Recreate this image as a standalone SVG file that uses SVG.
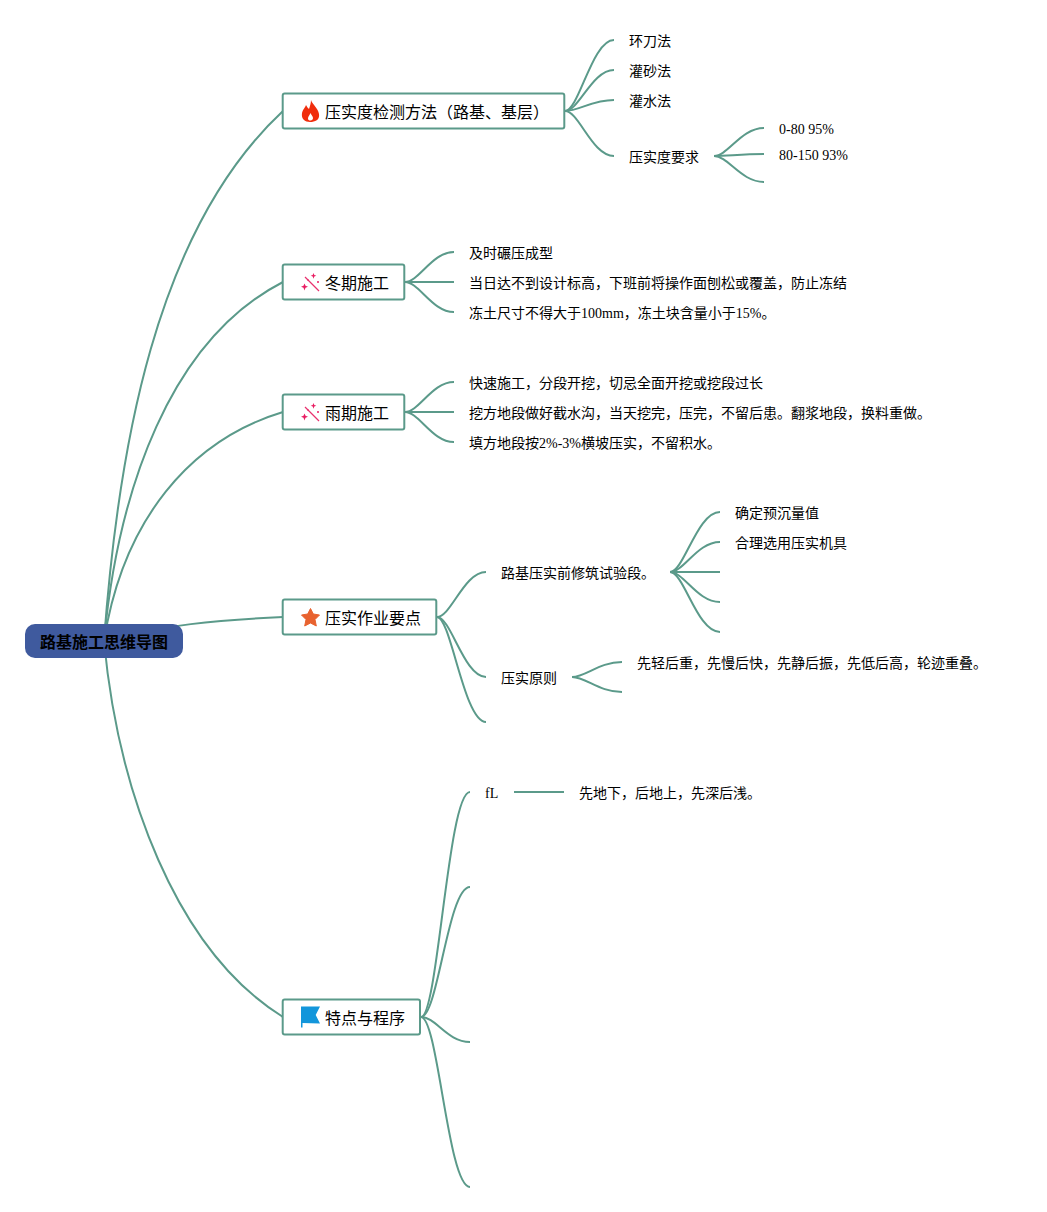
<svg xmlns="http://www.w3.org/2000/svg" width="1047" height="1212" viewBox="0 0 1047 1212">
<style>
text{font-family:"Liberation Serif","Noto Sans CJK JP",serif;fill:#000}
.l{font-size:14px}
.n{font-size:16px}
.box{fill:#fff;stroke:#5b9a8a;stroke-width:2}
#connectors path{fill:none;stroke:#5b9a8a;stroke-width:2}
.w{fill:none;stroke:#e8326e;stroke-width:1.3}
.s{fill:#e91e63}
</style>
<rect width="1047" height="1212" fill="#fff"/>
<g id="connectors">
<path d="M104 641C118 450 155 230 283 111"/>
<path d="M104 641C118 490 170 340 283 282"/>
<path d="M104 641C123 520 190 440 283 412"/>
<path d="M104 641C160 625 220 620 283 617"/>
<path d="M104 641C118 790 175 950 283 1017"/>
<path d="M565 111C579 111 592 40 614 40"/>
<path d="M565 111C579 111 592 70 614 70"/>
<path d="M565 111C579 111 592 100 614 100"/>
<path d="M565 111C579 111 592 156 614 156"/>
<path d="M714 156C728 156 741 128 764 128"/>
<path d="M714 156C728 156 741 154 764 154"/>
<path d="M714 156C728 156 741 182 764 182"/>
<path d="M405 282C419 282 432 252 454 252"/>
<path d="M405 282H454"/>
<path d="M405 282C419 282 432 312 454 312"/>
<path d="M405 412C419 412 432 382 454 382"/>
<path d="M405 412H454"/>
<path d="M405 412C419 412 432 442 454 442"/>
<path d="M437 617C451 617 464 572 486 572"/>
<path d="M437 617C451 617 464 677 486 677"/>
<path d="M437 617C451 617 464 722 486 722"/>
<path d="M670 572C684 572 697 512 720 512"/>
<path d="M670 572C684 572 697 542 720 542"/>
<path d="M670 572H720"/>
<path d="M670 572C684 572 697 602 720 602"/>
<path d="M670 572C684 572 697 632 720 632"/>
<path d="M572 677C586 677 599 662 622 662"/>
<path d="M572 677C586 677 599 692 622 692"/>
<path d="M514 792H564"/>
<path d="M421 1017C438 1017 448 792 470 792"/>
<path d="M421 1017C438 1017 448 887 470 887"/>
<path d="M421 1017C436 1017 447 1042 470 1042"/>
<path d="M421 1017C438 1017 448 1187 470 1187"/>
</g>
<g id="root"><rect x="25" y="624" width="158" height="34" rx="10" fill="#3f5a9e"/><text x="40" y="648" font-size="16" font-weight="bold">路基施工思维导图</text></g>
<g id="n1"><rect class="box" x="282.700" y="93.500" width="281.600" height="35" rx="2"/>
<path d="M311 100C312 104 318 108 319 114C320 120 315 122 310 122C305 122 301 119 302 113C303 109 305 108 306 105C307 107 308 108 309 109C310 106 311 103 311 100Z M310.500 113C309 116 308 117 308 118.500C308 120 309 120.500 310.500 120.500C312 120.500 313 119.500 313 118C313 116 311 115 310.500 113Z" fill="#f02d0c" fill-rule="evenodd"/>
<text class="n" x="325" y="118">压实度检测方法（路基、基层）</text></g>
<g id="n2"><rect class="box" x="282.700" y="264.400" width="121.600" height="35" rx="2"/>
<path class="w" d="M305 277L319 291"/><path class="s" d="M304.500 283.500L305.500 285.800L308 286.800L305.500 287.800L304.500 290.500L303.500 287.800L301 286.800L303.500 285.800Z M313.500 273L314.300 275L316.300 275.800L314.300 276.600L313.500 278.800L312.700 276.600L310.700 275.800L312.700 275Z"/><circle class="s" cx="318" cy="282" r="1"/><circle class="s" cx="308" cy="280" r=".8"/>
<text class="n" x="325" y="289">冬期施工</text></g>
<g id="n3"><rect class="box" x="282.700" y="394.400" width="121.600" height="35" rx="2"/>
<path class="w" d="M305 407L319 421"/><path class="s" d="M304.500 413.500L305.500 415.800L308 416.800L305.500 417.800L304.500 420.500L303.500 417.800L301 416.800L303.500 415.800Z M313.500 403L314.300 405L316.300 405.800L314.300 406.600L313.500 408.800L312.700 406.600L310.700 405.800L312.700 405Z"/><circle class="s" cx="318" cy="412" r="1"/><circle class="s" cx="308" cy="410" r=".8"/>
<text class="n" x="325" y="419">雨期施工</text></g>
<g id="n4"><rect class="box" x="282.700" y="599.400" width="153.600" height="35" rx="2"/>
<path d="M310.500 608.500L313.300 614L319.500 615L315 619.500L316.300 626L310.500 623L304.700 626L306 619.500L301.500 615L307.700 614Z" fill="#e8622f" stroke="#e8622f" stroke-linejoin="round"/>
<text class="n" x="325" y="624">压实作业要点</text></g>
<g id="n5"><rect class="box" x="282.700" y="999.400" width="137.300" height="35" rx="2"/>
<path d="M301 1006.500H320L315.700 1015L320 1023.500L302.500 1023V1027.500H301Z" fill="#1296db"/>
<text class="n" x="325" y="1024">特点与程序</text></g>
<g id="leaves">
<text class="l" x="629" y="46">环刀法</text>
<text class="l" x="629" y="76">灌砂法</text>
<text class="l" x="629" y="106">灌水法</text>
<text class="l" x="629" y="162">压实度要求</text>
<text class="l" x="779" y="134">0-80 95%</text>
<text class="l" x="779" y="160">80-150 93%</text>
<text class="l" x="469" y="258">及时碾压成型</text>
<text class="l" x="469" y="288">当日达不到设计标高，下班前将操作面刨松或覆盖，防止冻结</text>
<text class="l" x="469" y="318">冻土尺寸不得大于100mm，冻土块含量小于15%。</text>
<text class="l" x="469" y="388">快速施工，分段开挖，切忌全面开挖或挖段过长</text>
<text class="l" x="469" y="418">挖方地段做好截水沟，当天挖完，压完，不留后患。翻浆地段，换料重做。</text>
<text class="l" x="469" y="448">填方地段按2%-3%横坡压实，不留积水。</text>
<text class="l" x="501" y="578">路基压实前修筑试验段。</text>
<text class="l" x="735" y="518">确定预沉量值</text>
<text class="l" x="735" y="548">合理选用压实机具</text>
<text class="l" x="501" y="683">压实原则</text>
<text class="l" x="637" y="668">先轻后重，先慢后快，先静后振，先低后高，轮迹重叠。</text>
<text class="l" x="485" y="798">fL</text>
<text class="l" x="579" y="798">先地下，后地上，先深后浅。</text>
</g>
</svg>
